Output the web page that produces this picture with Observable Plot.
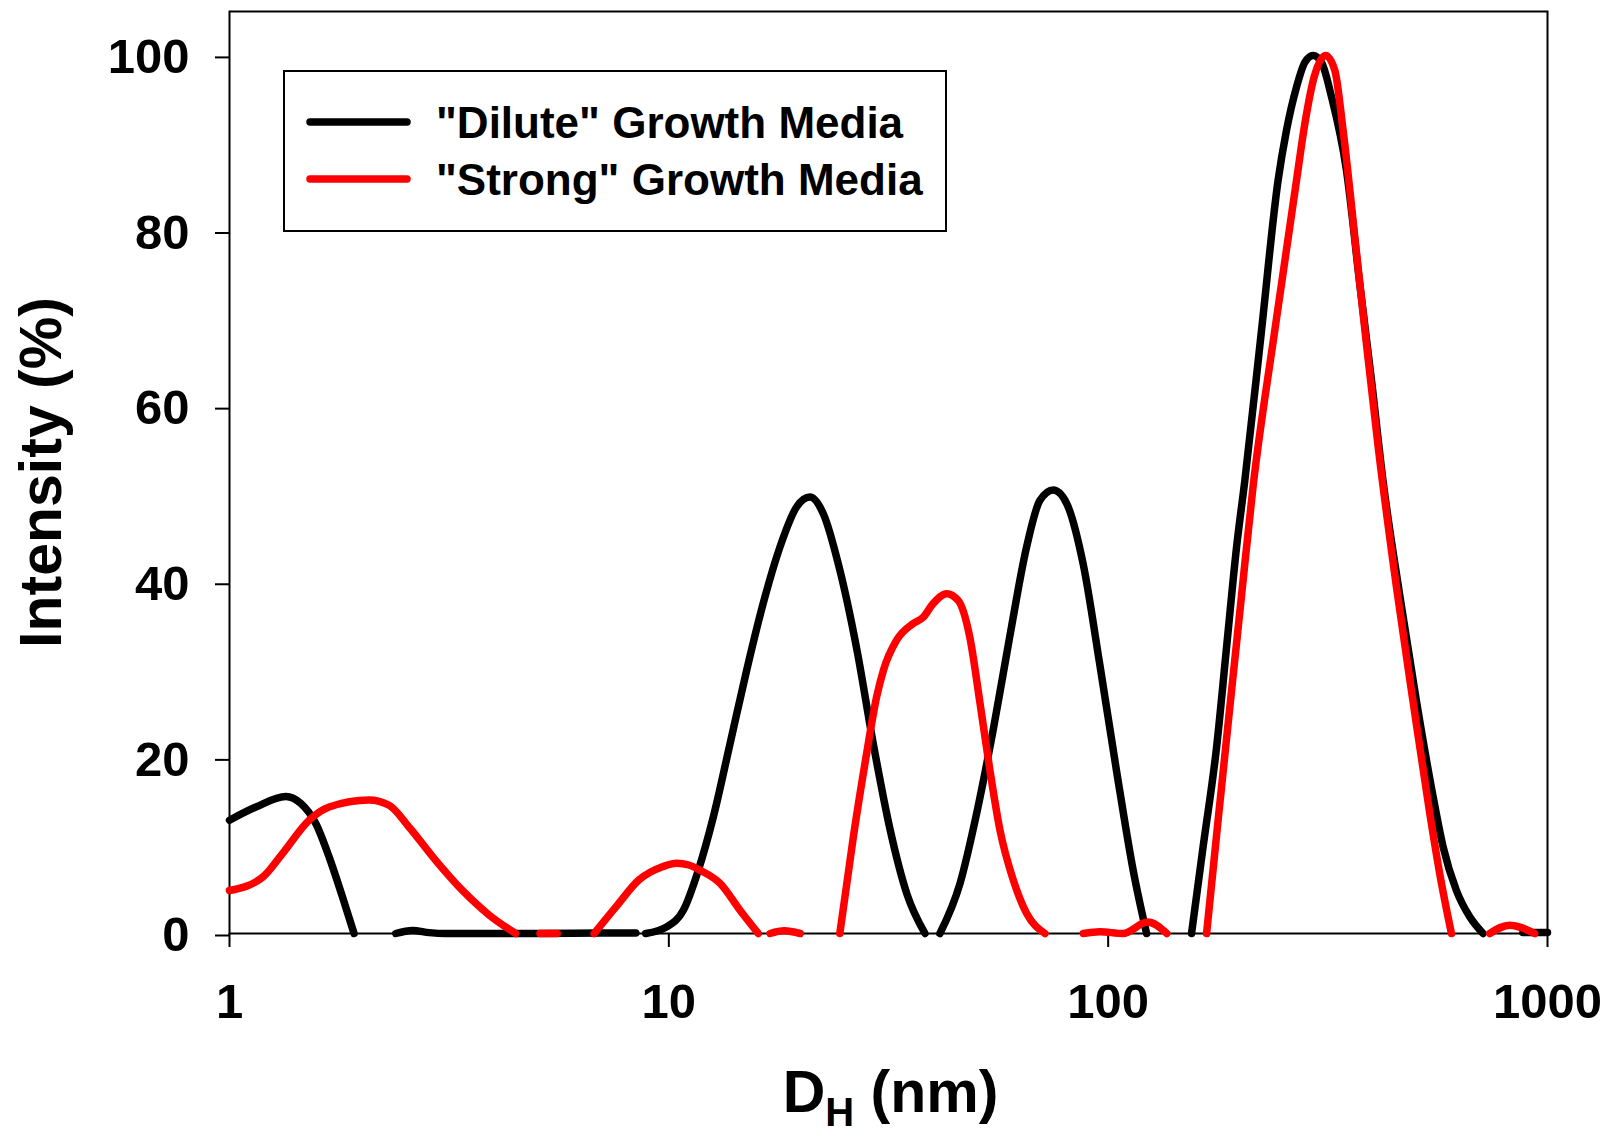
<!DOCTYPE html>
<html><head><meta charset="utf-8">
<script src="https://cdn.jsdelivr.net/npm/d3@7"></script>
<script src="https://cdn.jsdelivr.net/npm/@observablehq/plot@0.6"></script>
<style>
html,body{margin:0;padding:0;background:#fff;}
#wrap{position:relative;width:1610px;height:1136px;overflow:hidden;}
#legend{position:absolute;left:283px;top:70px;}
</style></head><body><div id="wrap"></div>
<script>
// ---- data ----
const ticksX = [1, 10, 100, 1000];
const ticksY = [0, 20, 40, 60, 80, 100];
const seriesNames = ['"Dilute" Growth Media', '"Strong" Growth Media'];
const seriesColors = ["#000000", "#ff0000"];
const xTitle = "DH (nm)";
const yTitle = "Intensity (%)";

// null entries separate the drawn segments
const diluteD = [1, 1.148, 1.344, 1.454, 1.573, 1.686, 1.807, 1.921, null,
  2.39, 2.61, 2.85, 3.1, 5, 7, 8.41, null,
  8.86, 9.89, 10.79, 11.67, 12.63, 13.78, 15.04, 16.4, 17.9, 19.55, 20.95, 22.47, 24.5, 26.8, 29.2, 31.9, 34.8, 38.3, null,
  41.4, 46.0, 50.2, 54.7, 59.7, 65.2, 69.9, 75.0, 80.4, 87.7, 95.8, 104.5, 114, 122.3, null,
  154.8, 164.5, 176.5, 186, 196, 204.7, 223.4, 243.7, 254.7, 268.4, 280.3, 292.7, 305.9, 322.3, 348.7, 373.8, 397.5, 422.4, 461, 503, 549, 578.4, 620.4, 665.3, 713.5, null,
  879, 1000];
const diluteI = [12.9, 14.4, 15.6, 14.8, 12.5, 8.7, 4.2, 0, null,
  0, 0.35, 0.1, 0, 0, 0.05, 0.05, null,
  0, 0.75, 2.65, 7.2, 13.3, 21.6, 30.0, 37.6, 44.0, 48.6, 49.7, 47.8, 41.4, 32.3, 21.6, 11.8, 4.55, 0, null,
  0, 5.7, 13.7, 23.1, 33.8, 44.0, 49.3, 50.5, 49.0, 42.1, 30.5, 18.5, 7.2, 0, null,
  0, 9.9, 21.2, 32.6, 44.0, 51.6, 68.7, 85.8, 91.5, 96.4, 99.2, 100, 99.2, 95.3, 86.9, 74.0, 63.0, 51.5, 38.5, 26.5, 15.6, 9.9, 4.9, 1.9, 0, null,
  0.1, 0.1];

const strongD = [1, 1.189, 1.32, 1.518, 1.686, 2.079, 2.308, 2.564, 2.949, 3.39, 3.90, 4.48, null,
  5.09, 5.57, null,
  6.76, 7.57, 8.55, 9.67, 10.42, 11.1, 11.78, 13.08, 14.52, 15.98, null,
  17.0, 18.3, 19.9, null,
  24.5, 26.3, 28.2, 29.7, 30.8, 33.0, 36.0, 37.9, 40.0, 42.9, 45.6, 48.4, 51.1, 53.8, 56.7, 60.8, 65.2, 71.8, null,
  87.8, 95.8, 108, 123, 136, null,
  167.5, 177, 188.5, 200.7, 213.8, 239.5, 268.4, 280.3, 294.2, 312.4, 328, 342.5, 367.5, 387.4, 411.5, 453, 494, 539.5, 568.5, 604.5, null,
  739, 820, 935];
const strongI = [4.9, 6.4, 9.1, 12.9, 14.4, 15.2, 14.6, 12.1, 8.3, 4.9, 2.1, 0, null,
  0, 0, null,
  0, 3.0, 6.1, 7.6, 8.0, 7.8, 7.2, 5.7, 2.65, 0, null,
  0, 0.3, 0, null,
  0, 11.0, 20.5, 26.9, 30.0, 33.4, 35.3, 36.0, 37.6, 38.7, 37.9, 33.8, 26.2, 18.6, 11.8, 6.1, 2.3, 0, null,
  0, 0.2, 0, 1.3, 0, null,
  0, 11.8, 25.0, 38.0, 51.0, 68.7, 85.8, 92.2, 97.5, 100, 98.3, 91.5, 77.5, 67.0, 55.5, 39.5, 26.5, 13.7, 6.8, 0, null,
  0, 0.95, 0];

// ---- build table ----
const rows = [];
diluteD.forEach((d, i) => rows.push({series: seriesNames[0], d, v: diluteI[i]}));
strongD.forEach((d, i) => rows.push({series: seriesNames[1], d, v: strongI[i]}));

const font = "'Liberation Sans', Arial, Helvetica, sans-serif";

const chart = Plot.plot({
  width: 1610,
  height: 1136,
  marginLeft: 229,
  marginRight: 63,
  marginTop: 11,
  marginBottom: 203,
  style: {fontFamily: font, fontWeight: "bold", fontSize: "49px", background: "white", color: "black", overflow: "visible"},
  x: {type: "log", domain: [1, 1000]},
  y: {domain: [0, 105]},
  color: {domain: seriesNames, range: seriesColors},
  marks: [
    Plot.frame({stroke: "black", strokeWidth: 2}),
    Plot.axisX({ticks: ticksX, tickFormat: d => String(d), tickSize: 14, tickPadding: 36, fontSize: 49, fontWeight: "bold", strokeWidth: 2, label: null}),
    Plot.axisY({ticks: ticksY, tickFormat: d => String(d), tickSize: 14, tickPadding: 26, fontSize: 49, fontWeight: "bold", strokeWidth: 2, label: null, dy: 2}),
    Plot.line(rows, {x: "d", y: "v", z: "series", stroke: "series", strokeWidth: 7.5, curve: "monotone-x", strokeLinecap: "round", strokeLinejoin: "round"}),
    Plot.text([yTitle], {frameAnchor: "left", dx: -187, rotate: -90, fontSize: 59, fontWeight: "bold", textAnchor: "middle", lineAnchor: "middle"}),
    Plot.text([xTitle], {frameAnchor: "bottom", dx: 2, dy: 160, fontSize: 59, fontWeight: "bold", textAnchor: "middle", lineAnchor: "middle"})
  ]
});

// subscript in the x title
d3.select(chart).selectAll("text").each(function() {
  if (this.textContent === xTitle) {
    const t = d3.select(this);
    t.text(null);
    t.append("tspan").text("D");
    t.append("tspan").attr("font-size", 40).attr("dy", 14).text("H");
    t.append("tspan").attr("dy", -14).text(" (nm)");
  }
});

const wrap = document.getElementById("wrap");
wrap.appendChild(chart);

// legend box
const lg = d3.select(wrap).append("svg").attr("id", "legend")
  .attr("width", 665).attr("height", 163)
  .style("font-family", font).style("font-weight", "bold");
lg.append("rect").attr("x", 1).attr("y", 1).attr("width", 662).attr("height", 160)
  .attr("fill", "white").attr("stroke", "black").attr("stroke-width", 2);
seriesNames.forEach((name, i) => {
  const cy = 52 + i * 57;
  lg.append("line").attr("x1", 27).attr("x2", 124).attr("y1", cy).attr("y2", cy)
    .attr("stroke", seriesColors[i]).attr("stroke-width", 7.5).attr("stroke-linecap", "round");
  lg.append("text").attr("x", 153).attr("y", cy + 15.5).attr("font-size", 44).text(name);
});
</script>
</body></html>
